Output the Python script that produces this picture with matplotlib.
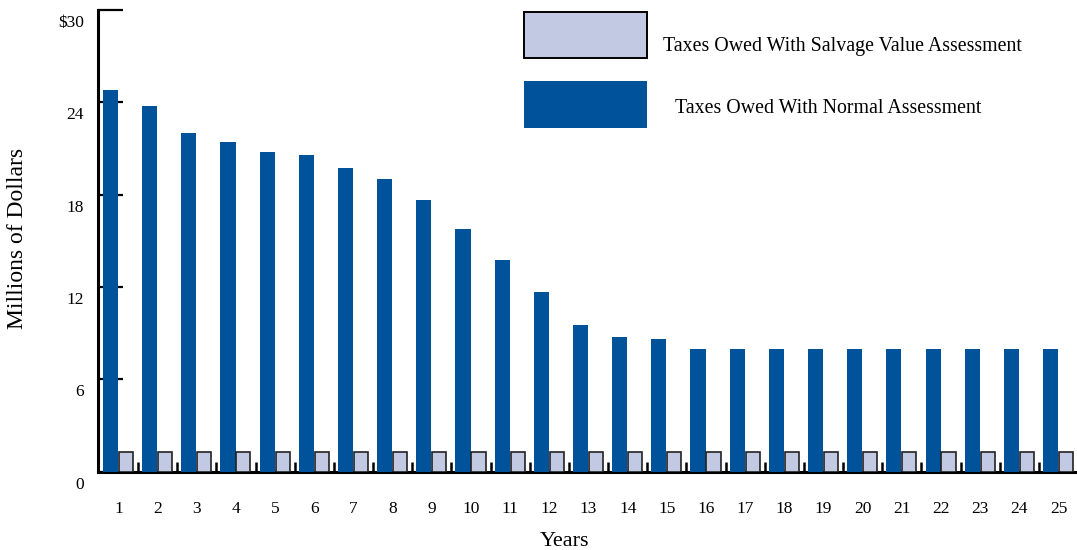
import numpy as np
import matplotlib
matplotlib.use("Agg")
import matplotlib.pyplot as plt
from matplotlib.patches import Rectangle
from matplotlib.ticker import FixedLocator
import matplotlib.transforms as mtransforms

years = list(range(1, 26))
normal = [24.8, 23.75, 22.0, 21.45, 20.75, 20.55, 19.75, 19.05, 17.65, 15.75,
          13.75, 11.65, 9.55, 8.75, 8.62, 7.95, 7.95, 7.95, 7.95, 7.95,
          7.95, 7.95, 7.95, 7.95, 7.95]
salvage = [1.3] * 25
ytick_vals = [0, 6, 12, 18, 24, 30]
ytick_labels = ["0", "6", "12", "18", "24", "$30"]
legend_labels = ["Taxes Owed With Salvage Value Assessment",
                 "Taxes Owed With Normal Assessment"]

NAVY = "#00529B"
LIGHT = "#C2C9E2"
SERIF = ["Liberation Serif", "DejaVu Serif"]
plt.rcParams["font.family"] = SERIF

W, H = 1077, 550
fig = plt.figure(figsize=(W / 100, H / 100), dpi=100)
ax = fig.add_axes([98 / W, (H - 471.7) / H, (W - 98) / W, (471.7 - 10) / H])

x = np.array(years, dtype=float)
ax.bar(x - 0.205, normal, width=0.385, color=NAVY, edgecolor="none", zorder=2)
ax.bar(x + 0.19, salvage, width=0.36, color=LIGHT, edgecolor="#222222",
       linewidth=1.2, zorder=2)

ax.set_xlim(0.477, 25.47)
ax.set_ylim(0, 30)

for s in ["top", "right"]:
    ax.spines[s].set_visible(False)
ax.spines["left"].set_linewidth(2.2)
ax.spines["bottom"].set_linewidth(2.2)
ax.spines["left"].set_zorder(3)
ax.spines["bottom"].set_zorder(1)

# y ticks
ax.set_yticks(ytick_vals)
ax.set_yticklabels(ytick_labels)
ax.tick_params(axis="y", direction="in", length=18, width=1.6, pad=10,
               labelsize=12.5, color="black")
offset = mtransforms.ScaledTranslation(0, -11 / 100, fig.dpi_scale_trans)
for lab in ax.get_yticklabels():
    lab.set_transform(lab.get_transform() + offset)
for t in ax.yaxis.get_major_ticks():
    t.tick1line.set_clip_on(False)

# x ticks
ax.set_xticks(x)
ax.set_xticklabels([str(y) for y in years])
ax.tick_params(axis="x", which="major", length=0, pad=21, labelsize=12.5)
ax.xaxis.set_minor_locator(FixedLocator(np.arange(1.5, len(years), 1.0)))
ax.tick_params(axis="x", which="minor", direction="in", length=7.5, width=1.8,
               color="black")

fig.text(18 / W, 1 - 238 / H, "Millions of Dollars", rotation=90,
         ha="center", va="center", fontsize=17)
fig.text(564 / W, 1 - 542 / H, "Years", ha="center", va="center", fontsize=16)

# legend
def figrect(x0, y0, x1, y1, **kw):
    r = Rectangle((x0 / W, 1 - y1 / H), (x1 - x0) / W, (y1 - y0) / H,
                  transform=fig.transFigure, **kw)
    fig.add_artist(r)

figrect(524, 11.5, 647, 57.5, facecolor=LIGHT, edgecolor="black", linewidth=1.4)
figrect(524, 80.5, 647, 127.5, facecolor=NAVY, edgecolor="none")
fig.text(663 / W, 1 - 51 / H, legend_labels[0], ha="left", va="baseline",
         fontsize=14.3)
fig.text(675 / W, 1 - 113.5 / H, legend_labels[1], ha="left", va="baseline",
         fontsize=14.3)

fig.savefig("out.png", dpi=100)
